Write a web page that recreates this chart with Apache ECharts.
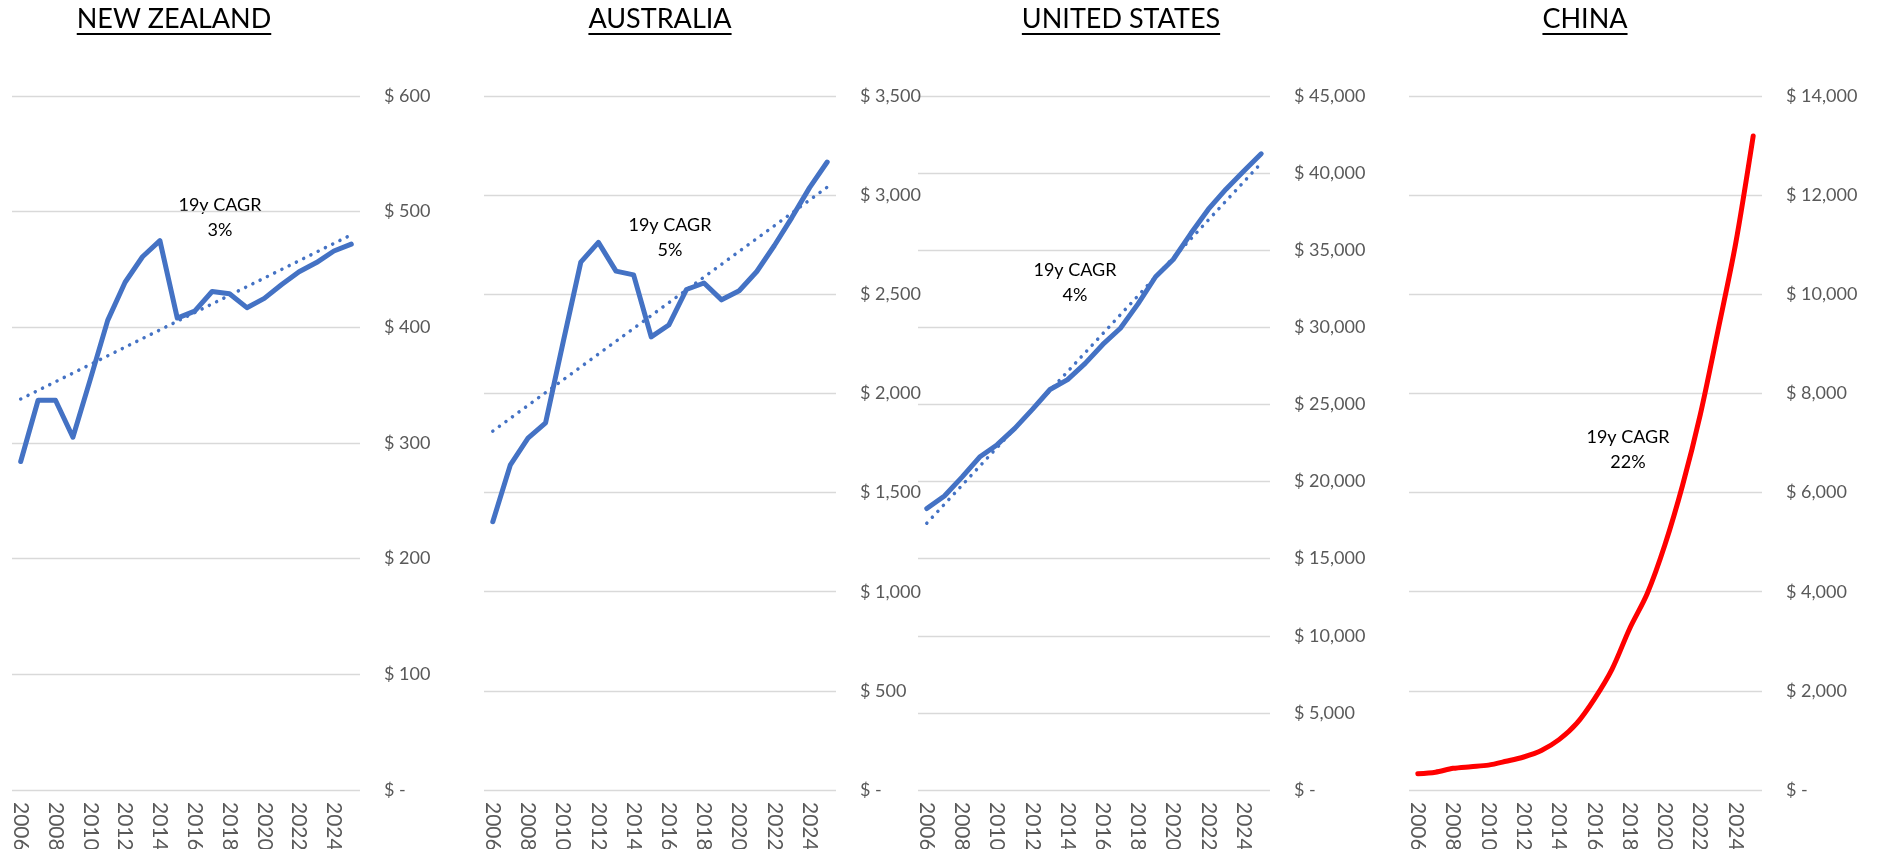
<!DOCTYPE html>
<html>
<head>
<meta charset="utf-8">
<script src="https://cdn.jsdelivr.net/npm/echarts@6/dist/echarts.min.js"></script>
<style>
  html, body { margin: 0; padding: 0; background: #fff; }
  #main { width: 1877px; height: 849px; }
</style>
</head>
<body>
<div id="main"></div>
<script>
var years = [];
for (var y = 2006; y <= 2025; y++) years.push(String(y));

// values
var nz = [284, 337, 337, 305, 355, 406, 439, 461, 475, 408, 414, 431, 429, 417, 425, 437, 448, 456, 466, 472];
var au = [1353, 1640, 1775, 1852, 2260, 2662, 2762, 2617, 2598, 2285, 2345, 2524, 2557, 2472, 2518, 2615, 2746, 2888, 3038, 3167];
var us = [18250, 19060, 20290, 21590, 22390, 23450, 24680, 25970, 26610, 27660, 28890, 29940, 31520, 33280, 34400, 36080, 37660, 38960, 40120, 41250];
var cn = [328, 360, 437, 470, 502, 579, 666, 797, 1016, 1343, 1835, 2435, 3254, 3964, 4947, 6148, 7568, 9261, 11008, 13192];

// trend line ends (first year, last year)
var trendNZ = [338, 480];
var trendAU = [1810, 3040];
var trendUS = [17300, 40650];

var titles = ['NEW ZEALAND', 'AUSTRALIA', 'UNITED STATES', 'CHINA'];
var cagr = ['3%', '5%', '4%', '22%'];
var yMax = [600, 3500, 45000, 14000];
var yStep = [100, 500, 5000, 2000];

var grids = [
  { left: 12, width: 348 },
  { left: 484, width: 352 },
  { left: 918, width: 352 },
  { left: 1409, width: 353 }
];
var titleX = [174, 660, 1121, 1585];
var noteXY = [[220, 218], [670, 238], [1075, 283], [1628, 450]];

var FONT = 'Lato';
var blue = '#4472C4';

function trendData(ends) {
  var d = years.map(function () { return null; });
  d[0] = ends[0];
  d[d.length - 1] = ends[1];
  return d;
}

var measure = document.createElement('canvas').getContext('2d');
measure.font = '27px ' + FONT;

var option = {
  backgroundColor: '#fff',
  animation: false,
  grid: [], xAxis: [], yAxis: [], series: [], graphic: []
};

grids.forEach(function (g, i) {
  option.grid.push({ left: g.left, width: g.width, top: 96, height: 694, containLabel: false, outerBoundsMode: 'none' });
  option.xAxis.push({
    type: 'category', gridIndex: i, data: years, boundaryGap: true,
    axisLine: { show: false }, axisTick: { show: false },
    axisLabel: { interval: 1, rotate: -90, color: '#595959', fontFamily: FONT, fontSize: 21, margin: 12 }
  });
  option.yAxis.push({
    type: 'value', gridIndex: i, position: 'right', min: 0, max: yMax[i], interval: yStep[i],
    axisLine: { show: false }, axisTick: { show: false },
    splitLine: { lineStyle: { color: '#d9d9d9', width: 1.3 } },
    axisLabel: {
      align: 'left', margin: 24, color: '#595959', fontFamily: FONT, fontSize: 18,
      formatter: function (v) { return v === 0 ? '$ -' : '$ ' + v.toLocaleString('en-US'); }
    }
  });

  var w = measure.measureText(titles[i]).width;
  option.graphic.push({
    type: 'text', left: titleX[i] - w / 2, top: 6,
    style: { text: titles[i], font: '27px ' + FONT, fill: '#000' }
  });
  option.graphic.push({
    type: 'rect', shape: { x: titleX[i] - w / 2, y: 33, width: w, height: 2 },
    style: { fill: '#000' }
  });
  option.graphic.push({
    type: 'text', x: noteXY[i][0], y: noteXY[i][1],
    style: {
      text: '19y CAGR\n' + cagr[i], fill: '#000', font: '18px ' + FONT,
      textAlign: 'center', textVerticalAlign: 'middle', lineHeight: 25
    }
  });
});

var main = [nz, au, us, cn];
var trends = [trendNZ, trendAU, trendUS, null];
main.forEach(function (d, i) {
  if (trends[i]) {
    option.series.push({
      type: 'line', xAxisIndex: i, yAxisIndex: i, data: trendData(trends[i]),
      connectNulls: true, symbol: 'none', silent: true,
      lineStyle: { color: blue, width: 3.5, type: [0.1, 8], cap: 'round' }
    });
  }
  option.series.push({
    type: 'line', xAxisIndex: i, yAxisIndex: i, data: d, symbol: 'none',
    smooth: i === 3 ? 0.3 : false,
    lineStyle: { color: i === 3 ? '#FF0000' : blue, width: 5, cap: 'round', join: 'round' }
  });
});

var myChart = echarts.init(document.getElementById('main'));
myChart.setOption(option);
</script>
</body>
</html>
